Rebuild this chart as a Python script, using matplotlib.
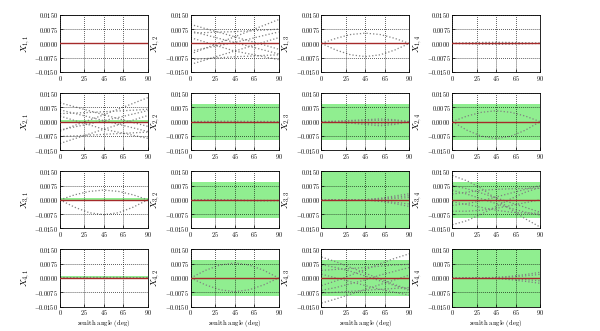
import matplotlib
matplotlib.use("Agg")
import matplotlib.pyplot as plt
from matplotlib.ticker import FuncFormatter

plt.rcParams['mathtext.fontset'] = 'cm'
plt.rcParams['font.family'] = ['DejaVu Serif']

angles = [0, 15, 30, 45, 60, 75, 90]
x_ticks = [0, 25, 45, 65, 90]
y_ticks = [-0.015, -0.0075, 0.0, 0.0075, 0.015]

# half-width of the green tolerance band per panel (row, col)
band_half = [
    [0.0, 0.0, 0.0, 0.0],
    [0.0008, 0.0095, 0.0095, 0.0095],
    [0.0008, 0.0095, 0.0160, 0.0095],
    [0.0008, 0.0095, 0.0095, 0.0160],
]

curves_1_1 = []
curves_1_2 = [
    [0.0100, 0.0078, 0.0057, 0.0035, 0.0013, -0.0008, -0.0030],
    [-0.0055, -0.0025, 0.0005, 0.0035, 0.0065, 0.0095, 0.0125],
    [0.0065, 0.0045, 0.0025, 0.0005, -0.0015, -0.0035, -0.0055],
    [-0.0040, -0.0025, -0.0010, 0.0005, 0.0023, 0.0042, 0.0060],
    [0.0030, 0.0007, -0.0017, -0.0040, -0.0055, -0.0070, -0.0085],
    [-0.0110, -0.0087, -0.0063, -0.0040, -0.0017, 0.0007, 0.0030],
    [0.0055, 0.0057, 0.0060, 0.0062, 0.0066, 0.0070, 0.0075],
    [-0.0085, -0.0080, -0.0075, -0.0070, -0.0067, -0.0063, -0.0060],
]
curves_1_3 = [
    [0.0, 0.0027, 0.0047, 0.0054, 0.0047, 0.0027, 0.0],
    [0.0, -0.0035, -0.0060, -0.0069, -0.0060, -0.0035, 0.0],
]
curves_1_4 = [
    [0.0, 0.0003, 0.0005, 0.0006, 0.0005, 0.0003, 0.0001],
    [0.0, -0.0002, -0.0004, -0.0005, -0.0004, -0.0002, 0.0],
    [0.0, 0.0001, 0.0002, 0.0003, 0.0002, 0.0001, 0.0],
]
curves_2_1 = [
    [0.0099, 0.0078, 0.0057, 0.0036, 0.0015, -0.0005, -0.0025],
    [-0.0050, -0.0020, 0.0008, 0.0036, 0.0066, 0.0096, 0.0126],
    [0.0062, 0.0043, 0.0024, 0.0005, -0.0014, -0.0033, -0.0052],
    [-0.0044, -0.0028, -0.0012, 0.0005, 0.0022, 0.0040, 0.0058],
    [0.0029, 0.0006, -0.0017, -0.0040, -0.0056, -0.0072, -0.0088],
    [-0.0115, -0.0090, -0.0065, -0.0040, -0.0016, 0.0008, 0.0032],
    [0.0042, 0.0045, 0.0048, 0.0052, 0.0056, 0.0060, 0.0065],
    [-0.0078, -0.0075, -0.0071, -0.0067, -0.0063, -0.0059, -0.0055],
]
curves_2_2 = [
    [0.0, 0.0001, 0.0002, 0.0002, 0.0001, 0.0001, 0.0],
    [0.0, -0.0001, -0.0002, -0.0003, -0.0003, -0.0002, -0.0001],
]
curves_2_3 = [
    [0.0, 0.0002, 0.0006, 0.0010, 0.0014, 0.0010, 0.0],
    [0.0, 0.0001, 0.0003, 0.0005, 0.0007, 0.0005, 0.0],
    [0.0, -0.0001, -0.0004, -0.0008, -0.0012, -0.0008, 0.0],
    [0.0, -0.0003, -0.0008, -0.0015, -0.0022, -0.0015, 0.0],
]
curves_2_4 = [
    [0.0, 0.0029, 0.0049, 0.0057, 0.0049, 0.0029, 0.0],
    [0.0, -0.0045, -0.0077, -0.0089, -0.0077, -0.0045, 0.0],
]
curves_3_1 = [
    [0.0, 0.0026, 0.0044, 0.0051, 0.0044, 0.0026, 0.0],
    [0.0, -0.0039, -0.0068, -0.0078, -0.0068, -0.0039, 0.0],
]
curves_3_2 = [
    [0.0, 0.0001, 0.0001, 0.0, -0.0002, -0.0003, -0.0003],
    [0.0, -0.0001, -0.0002, -0.0003, -0.0005, -0.0006, -0.0005],
]
curves_3_3 = [
    [0.0, 0.0, 0.0, 0.0001, 0.0008, 0.0020, 0.0032],
    [0.0, 0.0, 0.0, 0.0001, 0.0005, 0.0013, 0.0022],
    [0.0, 0.0, 0.0, 0.0, 0.0003, 0.0007, 0.0012],
    [0.0, 0.0, 0.0, -0.0001, -0.0006, -0.0013, -0.0022],
    [0.0, 0.0, 0.0, -0.0001, -0.0008, -0.0020, -0.0035],
]
curves_3_4 = [
    [0.0128, 0.0100, 0.0060, 0.0005, -0.0050, -0.0100, -0.0143],
    [-0.0131, -0.0110, -0.0075, -0.0035, 0.0005, 0.0040, 0.0065],
    [0.0075, 0.0058, 0.0035, 0.0010, -0.0015, -0.0040, -0.0065],
    [0.0050, 0.0030, 0.0005, -0.0020, -0.0045, -0.0065, -0.0080],
    [-0.0030, -0.0020, -0.0005, 0.0015, 0.0035, 0.0055, 0.0075],
    [-0.0060, -0.0060, -0.0055, -0.0045, -0.0030, -0.0015, 0.0],
    [0.0030, 0.0040, 0.0050, 0.0055, 0.0058, 0.0060, 0.0060],
    [-0.0010, -0.0025, -0.0040, -0.0055, -0.0065, -0.0070, -0.0070],
]
curves_4_1 = [
    [0.0002, 0.0002, 0.0003, 0.0003, 0.0003, 0.0002, 0.0002],
    [-0.0001, -0.0001, -0.0002, -0.0002, -0.0002, -0.0001, -0.0001],
]
curves_4_2 = [
    [0.0, 0.0040, 0.0068, 0.0079, 0.0068, 0.0040, 0.0],
    [0.0, -0.0036, -0.0062, -0.0072, -0.0062, -0.0036, 0.0],
]
curves_4_3 = [
    [0.0110, 0.0085, 0.0055, 0.0025, -0.0005, -0.0035, -0.0060],
    [-0.0040, -0.0015, 0.0015, 0.0045, 0.0075, 0.0103, 0.0127],
    [-0.0132, -0.0110, -0.0085, -0.0060, -0.0035, -0.0010, 0.0015],
    [0.0070, 0.0055, 0.0035, 0.0010, -0.0015, -0.0040, -0.0065],
    [0.0040, 0.0045, 0.0050, 0.0055, 0.0062, 0.0068, 0.0072],
    [-0.0065, -0.0050, -0.0030, -0.0010, 0.0015, 0.0035, 0.0055],
    [0.0020, 0.0, -0.0020, -0.0040, -0.0060, -0.0075, -0.0090],
    [-0.0080, -0.0075, -0.0070, -0.0065, -0.0060, -0.0055, -0.0050],
]
curves_4_4 = [
    [0.0, 0.0, 0.0001, 0.0003, 0.0009, 0.0018, 0.0030],
    [0.0, 0.0, 0.0001, 0.0002, 0.0005, 0.0011, 0.0019],
    [0.0, 0.0, 0.0, -0.0001, -0.0004, -0.0009, -0.0015],
    [0.0, 0.0, -0.0001, -0.0003, -0.0009, -0.0018, -0.0028],
]

curves = [
    [curves_1_1, curves_1_2, curves_1_3, curves_1_4],
    [curves_2_1, curves_2_2, curves_2_3, curves_2_4],
    [curves_3_1, curves_3_2, curves_3_3, curves_3_4],
    [curves_4_1, curves_4_2, curves_4_3, curves_4_4],
]

fig, axes = plt.subplots(4, 4, figsize=(6.0, 3.31), dpi=100)
fig.subplots_adjust(left=0.1, right=0.9, top=0.955, bottom=0.074,
                    wspace=0.49, hspace=0.37)

yfmt = FuncFormatter(lambda v, p: r'$%.4f$' % v)
xfmt = FuncFormatter(lambda v, p: r'$%d$' % v)

for r in range(4):
    for c in range(4):
        ax = axes[r][c]
        h = band_half[r][c]
        if h > 0:
            ax.axhspan(-h, h, color='#90ee90', zorder=0, lw=0)
        for vals in curves[r][c]:
            ax.plot(angles, vals, ls=':', color='#808080', lw=0.9, zorder=2)
        ax.plot([angles[0], angles[-1]], [0, 0], color='#a52a2a', lw=1.0, zorder=3)
        ax.set_xlim(0, 90)
        ax.set_ylim(-0.015, 0.015)
        ax.set_xticks(x_ticks)
        ax.set_yticks(y_ticks)
        ax.xaxis.set_major_formatter(xfmt)
        ax.yaxis.set_major_formatter(yfmt)
        ax.tick_params(labelsize=4.5, direction='in', length=2, width=0.5, pad=1.2)
        ax.grid(True, ls=':', color='black', lw=0.55)
        ax.set_axisbelow(False)
        for s in ax.spines.values():
            s.set_linewidth(0.6)
        ax.set_ylabel(r'$X_{%d,%d}$' % (r + 1, c + 1), fontsize=6.5, labelpad=2)
        if r == 3:
            ax.set_xlabel(r'$\mathrm{zenith\ angle\ (deg)}$', fontsize=4.8, labelpad=0.5)

fig.savefig('out.png', dpi=100)
